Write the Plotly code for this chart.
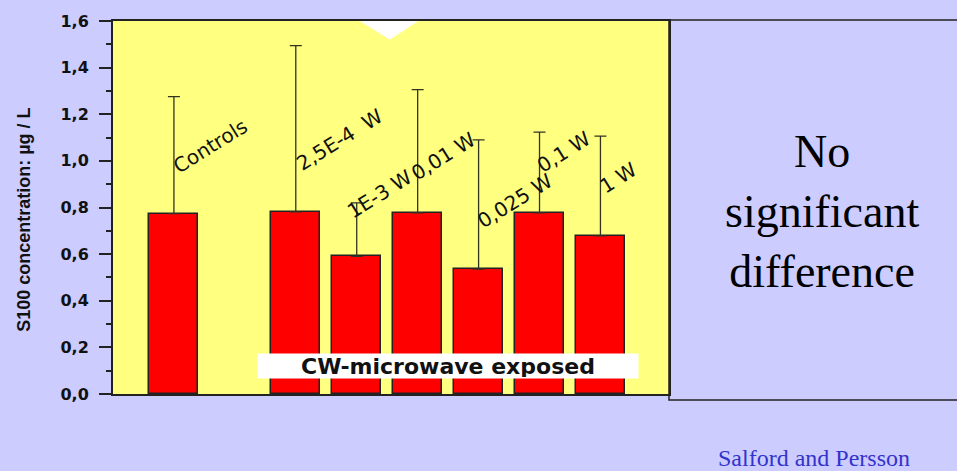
"""S100 concentration after CW-microwave exposure, bar chart with upper error bars."""
import plotly.graph_objects as go

# Groups (one blank slot separates controls from exposed groups)
groups = ["Controls", " ", "2,5E-4  W", "1E-3 W", "0,01 W", "0,025 W", "0,1 W", "1 W"]
means = [0.774, None, 0.781, 0.590, 0.777, 0.536, 0.777, 0.678]
sd_upper = [0.502, None, 0.713, 0.230, 0.529, 0.554, 0.346, 0.428]

# Rotated group labels (centre in data coords)
label_x = [0.60, None, 2.71, 3.38, 4.43, 5.59, 6.40, 7.29]
label_y = [1.063, None, 1.091, 0.857, 1.020, 0.830, 1.036, 0.925]

y_ticks = [0.0, 0.2, 0.4, 0.6, 0.8, 1.0, 1.2, 1.4, 1.6]

BG = "#CCCCFF"
PLOT_BG = "#FFFF80"
DARK = "#222222"

fig = go.Figure()

fig.add_trace(go.Bar(
    x=groups,
    y=means,
    width=0.805,
    marker={"color": "#FF0000", "line": {"color": DARK, "width": 1.5}},
    error_y={
        "type": "data",
        "symmetric": False,
        "array": sd_upper,
        "arrayminus": [0 if v is not None else None for v in sd_upper],
        "color": "#333322",
        "thickness": 1.3,
        "width": 6,
    },
    showlegend=False,
    hoverinfo="skip",
))

# Rotated text labels above each bar
for g, lx, ly in zip(groups, label_x, label_y):
    if lx is None:
        continue
    fig.add_annotation(
        x=lx, y=ly, xref="x", yref="y",
        text=g, showarrow=False, textangle=-32,
        xanchor="center", yanchor="middle",
        font={"family": "DejaVu Sans", "size": 20, "color": "#111111"},
    )

# White box label inside plot
fig.add_annotation(
    x=4.49, y=0.119, xref="x", yref="y",
    text="<b>CW-microwave exposed</b>", showarrow=False,
    xanchor="center", yanchor="middle",
    bgcolor="white", width=378, height=22,
    font={"family": "DejaVu Sans", "size": 22, "color": "#111111"},
)

# Y axis title as annotation for precise placement
fig.add_annotation(
    x=-0.16, y=0.467, xref="paper", yref="paper",
    text="<b>S100 concentration: µg / L</b>", showarrow=False, textangle=-90,
    xanchor="center", yanchor="middle",
    font={"family": "Liberation Sans", "size": 18, "color": "#111111"},
)

# Right side note box
fig.add_shape(
    type="rect", xref="paper", yref="paper",
    x0=1.0, x1=1.53, y0=-0.016, y1=1.003,
    line={"color": DARK, "width": 1.5}, fillcolor=BG, layer="below",
)
fig.add_annotation(
    x=1.275, y=0.488, xref="paper", yref="paper",
    text="No<br>significant<br>difference", showarrow=False,
    xanchor="center", yanchor="middle",
    font={"family": "Liberation Serif", "size": 46, "color": "#000000"},
)

fig.add_annotation(
    x=1.261, y=-0.172, xref="paper", yref="paper",
    text="Salford and Persson", showarrow=False,
    xanchor="center", yanchor="middle",
    font={"family": "Liberation Serif", "size": 24, "color": "#3333CC"},
)

# Small white notch at top of plot
fig.add_shape(
    type="path", xref="paper", yref="paper",
    path="M 0.444,1.0 L 0.549,1.0 L 0.498,0.95 Z",
    fillcolor="white", line={"width": 0},
)

fig.update_layout(
    width=957,
    height=471,
    margin={"l": 113, "r": 288, "t": 17, "b": 77},
    paper_bgcolor=BG,
    plot_bgcolor=PLOT_BG,
    separators=",.",
    bargap=0,
)

fig.update_xaxes(
    range=[-1, 8.125],
    showticklabels=False,
    showline=True, linecolor=DARK, linewidth=2, mirror=True,
    showgrid=False, zeroline=False,
    ticks="",
)

fig.update_yaxes(
    range=[0, 1.6],
    tickvals=y_ticks,
    tickformat=".1f",
    ticks="outside", ticklen=12, tickwidth=2, tickcolor=DARK,
    minor={"dtick": 0.1, "ticks": "outside", "ticklen": 5, "tickwidth": 1.5, "tickcolor": DARK},
    showline=True, linecolor=DARK, linewidth=2, mirror=True,
    showgrid=False, zeroline=False,
    ticklabelstandoff=7,
    tickfont={"family": "DejaVu Sans", "size": 16, "color": "#111111", "weight": "bold"},
)

# Drop the page margin so the figure fills the window
fig.write_html(
    "out.html",
    config={"displayModeBar": False},
    post_script="document.body.style.margin='0px';",
)
